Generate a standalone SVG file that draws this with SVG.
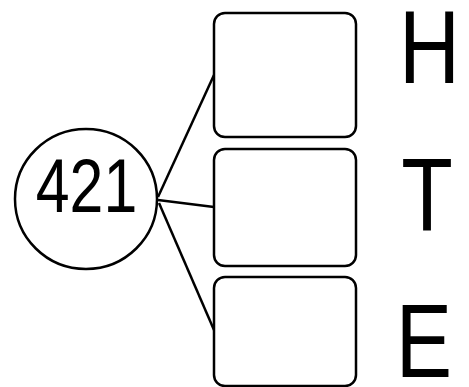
<svg xmlns="http://www.w3.org/2000/svg" width="469" height="387" viewBox="0 0 469 387">
<style>
.box{fill:#fff;stroke:#000;stroke-width:2.5}
.conn line{stroke:#000;stroke-width:2.5}
.lbl{font-family:"Liberation Sans",Arial,sans-serif;fill:#000;text-anchor:middle}
</style>
<rect width="469" height="387" fill="#fff"/>
<g id="connectors" class="conn">
<line x1="158" y1="197" x2="214" y2="75"/>
<line x1="158" y1="200" x2="214" y2="207"/>
<line x1="159" y1="203" x2="214" y2="330"/>
</g>
<g id="n421">
<ellipse class="box" cx="86" cy="199" rx="71" ry="70"/>
<text class="lbl" font-size="76" transform="translate(86.5,212) scale(0.8,1)">421</text>
</g>
<g id="boxH">
<rect class="box" x="214" y="13" width="142" height="124" rx="11"/>
</g>
<g id="boxT">
<rect class="box" x="214" y="149" width="142" height="117" rx="11"/>
</g>
<g id="boxE">
<rect class="box" x="214" y="277" width="142" height="109" rx="11"/>
</g>
<g id="labelH"><text class="lbl" font-size="103" transform="translate(429.5,83) scale(0.82,1)">H</text></g>
<g id="labelT"><text class="lbl" font-size="103" transform="translate(427,231) scale(0.82,1)">T</text></g>
<g id="labelE"><text class="lbl" font-size="103" transform="translate(424,377) scale(0.82,1)">E</text></g>
</svg>
